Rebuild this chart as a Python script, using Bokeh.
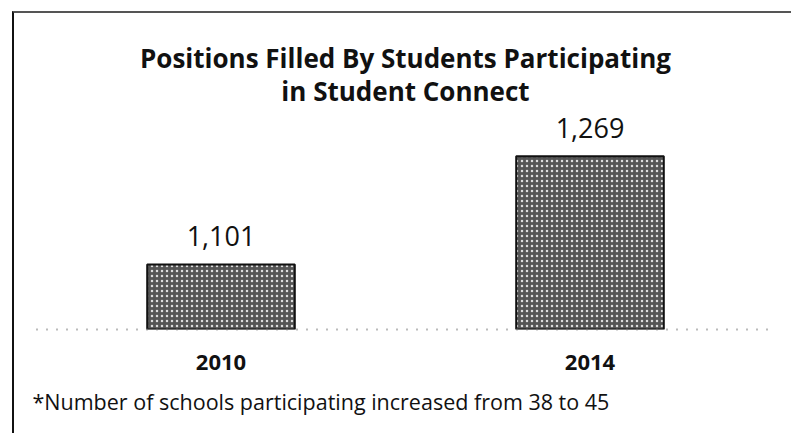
from bokeh.plotting import figure
from bokeh.models import ColumnDataSource, Range1d, Label, FactorRange, Title
from bokeh.core.properties import value
from bokeh.embed import file_html
from bokeh.resources import INLINE

# ---- data ----
years = ["2010", "2014"]
positions = [1101, 1269]
value_labels = [f"{v:,}" for v in positions]
axis_start = 1000
axis_end = 1466
title_lines = ["Positions Filled By Students Participating", "in Student Connect"]
footnote = "*Number of schools participating increased from 38 to 45"

FONT = "Open Sans"

src = ColumnDataSource(dict(year=years, pos=positions, lab=value_labels,
                            base=[axis_start] * len(years)))

W, H = 779, 422
p = figure(width=W, height=H, x_range=FactorRange(*years),
           y_range=Range1d(axis_start, axis_end),
           output_backend="svg", toolbar_location=None,
           min_border_left=22, min_border_right=19, min_border_top=16, min_border_bottom=106)
p.styles = {"border-left": "2px solid #111", "border-top": "2px solid #555",
            "margin-top": "11px", "margin-left": "12px"}
p.outline_line_color = None
p.background_fill_color = "white"
p.border_fill_color = "white"
p.grid.visible = False
p.yaxis.visible = False
p.x_range.range_padding = 0

xa = p.xaxis[0]
xa.axis_line_color = "#777777"
xa.axis_line_dash = "1 9"
xa.axis_line_width = 2
xa.major_tick_line_color = None
xa.minor_tick_line_color = None
xa.major_tick_out = 0
xa.major_tick_in = 0
xa.major_label_standoff = 25
xa.major_label_text_font = FONT
xa.major_label_text_font_style = "bold"
xa.major_label_text_font_size = "22px"
xa.major_label_text_color = "#111111"

p.vbar(x="year", top="pos", bottom="base", width=0.4, source=src,
       fill_color="#555555", line_color="#111111", line_width=2,
       hatch_pattern="dot", hatch_color="#dddddd", hatch_scale=5, hatch_weight=1.5)

p.text(x="year", y="pos", text="lab", source=src, text_align="center",
       text_baseline="middle", y_offset=-28, text_font=value(FONT),
       text_font_size="27px", text_color="#111111")

fw = W - 22 - 19
frame_h = H - 16 - 106
for i, t in enumerate(title_lines):
    p.add_layout(Label(x=fw / 2, y=frame_h - 28 - 33 * i, x_units="screen", y_units="screen",
                       text=t, text_align="center", text_baseline="middle",
                       text_font=FONT, text_font_style="bold", text_font_size="26px",
                       text_color="#111111"))

p.add_layout(Title(text=footnote, align="left", offset=-4, standoff=28,
                   vertical_align="top", text_font=FONT, text_font_style="normal",
                   text_font_size="21.5px", text_color="#111111"), "below")

open("out.html", "w").write(file_html(p, INLINE))
